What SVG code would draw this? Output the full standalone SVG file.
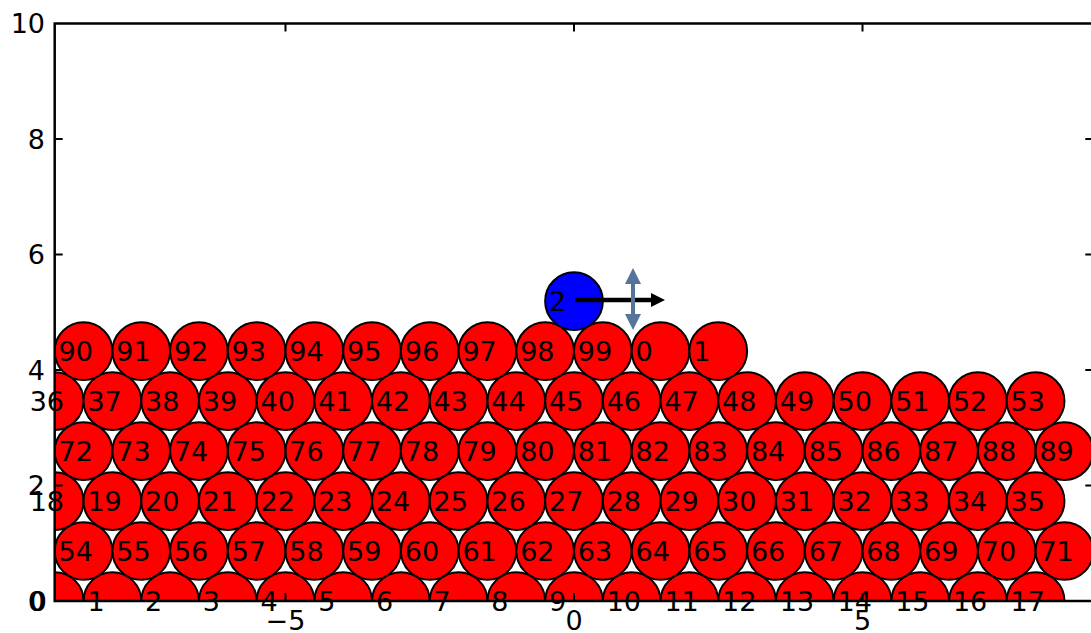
<svg xmlns="http://www.w3.org/2000/svg" width="1091" height="633" viewBox="0 0 1091 633">
<style>
.c{fill:#ff0000;stroke:#000;stroke-width:2}
.b{fill:#0000ff;stroke:#000;stroke-width:2}
.t{font-family:"DejaVu Sans","Liberation Sans",sans-serif;font-size:27px;fill:#000}
.tk{stroke:#000;stroke-width:2}
.yl{text-anchor:end}
.xl{text-anchor:middle}
</style>
<defs>
<clipPath id="ax"><rect x="54.7" y="23.5" width="1038.6" height="577.5"/></clipPath>
<marker id="hk" markerUnits="userSpaceOnUse" markerWidth="14" markerHeight="14" refX="0" refY="7" orient="auto"><path d="M0,0 L14,7 L0,14 z" fill="#000"/></marker>
<marker id="hb" markerUnits="userSpaceOnUse" markerWidth="16" markerHeight="16" refX="0" refY="8" orient="auto-start-reverse"><path d="M0,0 L16,8 L0,16 z" fill="#56739a"/></marker>
</defs>
<rect width="1091" height="633" fill="#fff"/>
<g id="nodes">
<g id="n0"><circle class="c" cx="54.7" cy="601" r="28.85" clip-path="url(#ax)"/><text class="t" x="29.7" y="610.5">0</text></g>
<g id="n1"><circle class="c" cx="112.4" cy="601" r="28.85" clip-path="url(#ax)"/><text class="t" x="87.4" y="610.5">1</text></g>
<g id="n2"><circle class="c" cx="170.1" cy="601" r="28.85" clip-path="url(#ax)"/><text class="t" x="145.1" y="610.5">2</text></g>
<g id="n3"><circle class="c" cx="227.8" cy="601" r="28.85" clip-path="url(#ax)"/><text class="t" x="202.8" y="610.5">3</text></g>
<g id="n4"><circle class="c" cx="285.5" cy="601" r="28.85" clip-path="url(#ax)"/><text class="t" x="260.5" y="610.5">4</text></g>
<g id="n5"><circle class="c" cx="343.2" cy="601" r="28.85" clip-path="url(#ax)"/><text class="t" x="318.2" y="610.5">5</text></g>
<g id="n6"><circle class="c" cx="400.9" cy="601" r="28.85" clip-path="url(#ax)"/><text class="t" x="375.9" y="610.5">6</text></g>
<g id="n7"><circle class="c" cx="458.6" cy="601" r="28.85" clip-path="url(#ax)"/><text class="t" x="433.6" y="610.5">7</text></g>
<g id="n8"><circle class="c" cx="516.3" cy="601" r="28.85" clip-path="url(#ax)"/><text class="t" x="491.3" y="610.5">8</text></g>
<g id="n9"><circle class="c" cx="574" cy="601" r="28.85" clip-path="url(#ax)"/><text class="t" x="549" y="610.5">9</text></g>
<g id="n10"><circle class="c" cx="631.7" cy="601" r="28.85" clip-path="url(#ax)"/><text class="t" x="606.7" y="610.5">10</text></g>
<g id="n11"><circle class="c" cx="689.4" cy="601" r="28.85" clip-path="url(#ax)"/><text class="t" x="664.4" y="610.5">11</text></g>
<g id="n12"><circle class="c" cx="747.1" cy="601" r="28.85" clip-path="url(#ax)"/><text class="t" x="722.1" y="610.5">12</text></g>
<g id="n13"><circle class="c" cx="804.8" cy="601" r="28.85" clip-path="url(#ax)"/><text class="t" x="779.8" y="610.5">13</text></g>
<g id="n14"><circle class="c" cx="862.5" cy="601" r="28.85" clip-path="url(#ax)"/><text class="t" x="837.5" y="610.5">14</text></g>
<g id="n15"><circle class="c" cx="920.2" cy="601" r="28.85" clip-path="url(#ax)"/><text class="t" x="895.2" y="610.5">15</text></g>
<g id="n16"><circle class="c" cx="977.9" cy="601" r="28.85" clip-path="url(#ax)"/><text class="t" x="952.9" y="610.5">16</text></g>
<g id="n17"><circle class="c" cx="1035.6" cy="601" r="28.85" clip-path="url(#ax)"/><text class="t" x="1010.6" y="610.5">17</text></g>
<g id="n54"><circle class="c" cx="83.55" cy="551" r="28.85" clip-path="url(#ax)"/><text class="t" x="58.55" y="560.5">54</text></g>
<g id="n55"><circle class="c" cx="141.25" cy="551" r="28.85" clip-path="url(#ax)"/><text class="t" x="116.25" y="560.5">55</text></g>
<g id="n56"><circle class="c" cx="198.95" cy="551" r="28.85" clip-path="url(#ax)"/><text class="t" x="173.95" y="560.5">56</text></g>
<g id="n57"><circle class="c" cx="256.65" cy="551" r="28.85" clip-path="url(#ax)"/><text class="t" x="231.65" y="560.5">57</text></g>
<g id="n58"><circle class="c" cx="314.35" cy="551" r="28.85" clip-path="url(#ax)"/><text class="t" x="289.35" y="560.5">58</text></g>
<g id="n59"><circle class="c" cx="372.05" cy="551" r="28.85" clip-path="url(#ax)"/><text class="t" x="347.05" y="560.5">59</text></g>
<g id="n60"><circle class="c" cx="429.75" cy="551" r="28.85" clip-path="url(#ax)"/><text class="t" x="404.75" y="560.5">60</text></g>
<g id="n61"><circle class="c" cx="487.45" cy="551" r="28.85" clip-path="url(#ax)"/><text class="t" x="462.45" y="560.5">61</text></g>
<g id="n62"><circle class="c" cx="545.15" cy="551" r="28.85" clip-path="url(#ax)"/><text class="t" x="520.15" y="560.5">62</text></g>
<g id="n63"><circle class="c" cx="602.85" cy="551" r="28.85" clip-path="url(#ax)"/><text class="t" x="577.85" y="560.5">63</text></g>
<g id="n64"><circle class="c" cx="660.55" cy="551" r="28.85" clip-path="url(#ax)"/><text class="t" x="635.55" y="560.5">64</text></g>
<g id="n65"><circle class="c" cx="718.25" cy="551" r="28.85" clip-path="url(#ax)"/><text class="t" x="693.25" y="560.5">65</text></g>
<g id="n66"><circle class="c" cx="775.95" cy="551" r="28.85" clip-path="url(#ax)"/><text class="t" x="750.95" y="560.5">66</text></g>
<g id="n67"><circle class="c" cx="833.65" cy="551" r="28.85" clip-path="url(#ax)"/><text class="t" x="808.65" y="560.5">67</text></g>
<g id="n68"><circle class="c" cx="891.35" cy="551" r="28.85" clip-path="url(#ax)"/><text class="t" x="866.35" y="560.5">68</text></g>
<g id="n69"><circle class="c" cx="949.05" cy="551" r="28.85" clip-path="url(#ax)"/><text class="t" x="924.05" y="560.5">69</text></g>
<g id="n70"><circle class="c" cx="1006.75" cy="551" r="28.85" clip-path="url(#ax)"/><text class="t" x="981.75" y="560.5">70</text></g>
<g id="n71"><circle class="c" cx="1064.45" cy="551" r="28.85" clip-path="url(#ax)"/><text class="t" x="1039.45" y="560.5">71</text></g>
<g id="n18"><circle class="c" cx="54.7" cy="501.1" r="28.85" clip-path="url(#ax)"/><text class="t" x="29.7" y="510.6">18</text></g>
<g id="n19"><circle class="c" cx="112.4" cy="501.1" r="28.85" clip-path="url(#ax)"/><text class="t" x="87.4" y="510.6">19</text></g>
<g id="n20"><circle class="c" cx="170.1" cy="501.1" r="28.85" clip-path="url(#ax)"/><text class="t" x="145.1" y="510.6">20</text></g>
<g id="n21"><circle class="c" cx="227.8" cy="501.1" r="28.85" clip-path="url(#ax)"/><text class="t" x="202.8" y="510.6">21</text></g>
<g id="n22"><circle class="c" cx="285.5" cy="501.1" r="28.85" clip-path="url(#ax)"/><text class="t" x="260.5" y="510.6">22</text></g>
<g id="n23"><circle class="c" cx="343.2" cy="501.1" r="28.85" clip-path="url(#ax)"/><text class="t" x="318.2" y="510.6">23</text></g>
<g id="n24"><circle class="c" cx="400.9" cy="501.1" r="28.85" clip-path="url(#ax)"/><text class="t" x="375.9" y="510.6">24</text></g>
<g id="n25"><circle class="c" cx="458.6" cy="501.1" r="28.85" clip-path="url(#ax)"/><text class="t" x="433.6" y="510.6">25</text></g>
<g id="n26"><circle class="c" cx="516.3" cy="501.1" r="28.85" clip-path="url(#ax)"/><text class="t" x="491.3" y="510.6">26</text></g>
<g id="n27"><circle class="c" cx="574" cy="501.1" r="28.85" clip-path="url(#ax)"/><text class="t" x="549" y="510.6">27</text></g>
<g id="n28"><circle class="c" cx="631.7" cy="501.1" r="28.85" clip-path="url(#ax)"/><text class="t" x="606.7" y="510.6">28</text></g>
<g id="n29"><circle class="c" cx="689.4" cy="501.1" r="28.85" clip-path="url(#ax)"/><text class="t" x="664.4" y="510.6">29</text></g>
<g id="n30"><circle class="c" cx="747.1" cy="501.1" r="28.85" clip-path="url(#ax)"/><text class="t" x="722.1" y="510.6">30</text></g>
<g id="n31"><circle class="c" cx="804.8" cy="501.1" r="28.85" clip-path="url(#ax)"/><text class="t" x="779.8" y="510.6">31</text></g>
<g id="n32"><circle class="c" cx="862.5" cy="501.1" r="28.85" clip-path="url(#ax)"/><text class="t" x="837.5" y="510.6">32</text></g>
<g id="n33"><circle class="c" cx="920.2" cy="501.1" r="28.85" clip-path="url(#ax)"/><text class="t" x="895.2" y="510.6">33</text></g>
<g id="n34"><circle class="c" cx="977.9" cy="501.1" r="28.85" clip-path="url(#ax)"/><text class="t" x="952.9" y="510.6">34</text></g>
<g id="n35"><circle class="c" cx="1035.6" cy="501.1" r="28.85" clip-path="url(#ax)"/><text class="t" x="1010.6" y="510.6">35</text></g>
<g id="n72"><circle class="c" cx="83.55" cy="451.1" r="28.85" clip-path="url(#ax)"/><text class="t" x="58.55" y="460.6">72</text></g>
<g id="n73"><circle class="c" cx="141.25" cy="451.1" r="28.85" clip-path="url(#ax)"/><text class="t" x="116.25" y="460.6">73</text></g>
<g id="n74"><circle class="c" cx="198.95" cy="451.1" r="28.85" clip-path="url(#ax)"/><text class="t" x="173.95" y="460.6">74</text></g>
<g id="n75"><circle class="c" cx="256.65" cy="451.1" r="28.85" clip-path="url(#ax)"/><text class="t" x="231.65" y="460.6">75</text></g>
<g id="n76"><circle class="c" cx="314.35" cy="451.1" r="28.85" clip-path="url(#ax)"/><text class="t" x="289.35" y="460.6">76</text></g>
<g id="n77"><circle class="c" cx="372.05" cy="451.1" r="28.85" clip-path="url(#ax)"/><text class="t" x="347.05" y="460.6">77</text></g>
<g id="n78"><circle class="c" cx="429.75" cy="451.1" r="28.85" clip-path="url(#ax)"/><text class="t" x="404.75" y="460.6">78</text></g>
<g id="n79"><circle class="c" cx="487.45" cy="451.1" r="28.85" clip-path="url(#ax)"/><text class="t" x="462.45" y="460.6">79</text></g>
<g id="n80"><circle class="c" cx="545.15" cy="451.1" r="28.85" clip-path="url(#ax)"/><text class="t" x="520.15" y="460.6">80</text></g>
<g id="n81"><circle class="c" cx="602.85" cy="451.1" r="28.85" clip-path="url(#ax)"/><text class="t" x="577.85" y="460.6">81</text></g>
<g id="n82"><circle class="c" cx="660.55" cy="451.1" r="28.85" clip-path="url(#ax)"/><text class="t" x="635.55" y="460.6">82</text></g>
<g id="n83"><circle class="c" cx="718.25" cy="451.1" r="28.85" clip-path="url(#ax)"/><text class="t" x="693.25" y="460.6">83</text></g>
<g id="n84"><circle class="c" cx="775.95" cy="451.1" r="28.85" clip-path="url(#ax)"/><text class="t" x="750.95" y="460.6">84</text></g>
<g id="n85"><circle class="c" cx="833.65" cy="451.1" r="28.85" clip-path="url(#ax)"/><text class="t" x="808.65" y="460.6">85</text></g>
<g id="n86"><circle class="c" cx="891.35" cy="451.1" r="28.85" clip-path="url(#ax)"/><text class="t" x="866.35" y="460.6">86</text></g>
<g id="n87"><circle class="c" cx="949.05" cy="451.1" r="28.85" clip-path="url(#ax)"/><text class="t" x="924.05" y="460.6">87</text></g>
<g id="n88"><circle class="c" cx="1006.75" cy="451.1" r="28.85" clip-path="url(#ax)"/><text class="t" x="981.75" y="460.6">88</text></g>
<g id="n89"><circle class="c" cx="1064.45" cy="451.1" r="28.85" clip-path="url(#ax)"/><text class="t" x="1039.45" y="460.6">89</text></g>
<g id="n36"><circle class="c" cx="54.7" cy="401.1" r="28.85" clip-path="url(#ax)"/><text class="t" x="29.7" y="410.6">36</text></g>
<g id="n37"><circle class="c" cx="112.4" cy="401.1" r="28.85" clip-path="url(#ax)"/><text class="t" x="87.4" y="410.6">37</text></g>
<g id="n38"><circle class="c" cx="170.1" cy="401.1" r="28.85" clip-path="url(#ax)"/><text class="t" x="145.1" y="410.6">38</text></g>
<g id="n39"><circle class="c" cx="227.8" cy="401.1" r="28.85" clip-path="url(#ax)"/><text class="t" x="202.8" y="410.6">39</text></g>
<g id="n40"><circle class="c" cx="285.5" cy="401.1" r="28.85" clip-path="url(#ax)"/><text class="t" x="260.5" y="410.6">40</text></g>
<g id="n41"><circle class="c" cx="343.2" cy="401.1" r="28.85" clip-path="url(#ax)"/><text class="t" x="318.2" y="410.6">41</text></g>
<g id="n42"><circle class="c" cx="400.9" cy="401.1" r="28.85" clip-path="url(#ax)"/><text class="t" x="375.9" y="410.6">42</text></g>
<g id="n43"><circle class="c" cx="458.6" cy="401.1" r="28.85" clip-path="url(#ax)"/><text class="t" x="433.6" y="410.6">43</text></g>
<g id="n44"><circle class="c" cx="516.3" cy="401.1" r="28.85" clip-path="url(#ax)"/><text class="t" x="491.3" y="410.6">44</text></g>
<g id="n45"><circle class="c" cx="574" cy="401.1" r="28.85" clip-path="url(#ax)"/><text class="t" x="549" y="410.6">45</text></g>
<g id="n46"><circle class="c" cx="631.7" cy="401.1" r="28.85" clip-path="url(#ax)"/><text class="t" x="606.7" y="410.6">46</text></g>
<g id="n47"><circle class="c" cx="689.4" cy="401.1" r="28.85" clip-path="url(#ax)"/><text class="t" x="664.4" y="410.6">47</text></g>
<g id="n48"><circle class="c" cx="747.1" cy="401.1" r="28.85" clip-path="url(#ax)"/><text class="t" x="722.1" y="410.6">48</text></g>
<g id="n49"><circle class="c" cx="804.8" cy="401.1" r="28.85" clip-path="url(#ax)"/><text class="t" x="779.8" y="410.6">49</text></g>
<g id="n50"><circle class="c" cx="862.5" cy="401.1" r="28.85" clip-path="url(#ax)"/><text class="t" x="837.5" y="410.6">50</text></g>
<g id="n51"><circle class="c" cx="920.2" cy="401.1" r="28.85" clip-path="url(#ax)"/><text class="t" x="895.2" y="410.6">51</text></g>
<g id="n52"><circle class="c" cx="977.9" cy="401.1" r="28.85" clip-path="url(#ax)"/><text class="t" x="952.9" y="410.6">52</text></g>
<g id="n53"><circle class="c" cx="1035.6" cy="401.1" r="28.85" clip-path="url(#ax)"/><text class="t" x="1010.6" y="410.6">53</text></g>
<g id="n90"><circle class="c" cx="83.55" cy="351.2" r="28.85" clip-path="url(#ax)"/><text class="t" x="58.55" y="360.7">90</text></g>
<g id="n91"><circle class="c" cx="141.25" cy="351.2" r="28.85" clip-path="url(#ax)"/><text class="t" x="116.25" y="360.7">91</text></g>
<g id="n92"><circle class="c" cx="198.95" cy="351.2" r="28.85" clip-path="url(#ax)"/><text class="t" x="173.95" y="360.7">92</text></g>
<g id="n93"><circle class="c" cx="256.65" cy="351.2" r="28.85" clip-path="url(#ax)"/><text class="t" x="231.65" y="360.7">93</text></g>
<g id="n94"><circle class="c" cx="314.35" cy="351.2" r="28.85" clip-path="url(#ax)"/><text class="t" x="289.35" y="360.7">94</text></g>
<g id="n95"><circle class="c" cx="372.05" cy="351.2" r="28.85" clip-path="url(#ax)"/><text class="t" x="347.05" y="360.7">95</text></g>
<g id="n96"><circle class="c" cx="429.75" cy="351.2" r="28.85" clip-path="url(#ax)"/><text class="t" x="404.75" y="360.7">96</text></g>
<g id="n97"><circle class="c" cx="487.45" cy="351.2" r="28.85" clip-path="url(#ax)"/><text class="t" x="462.45" y="360.7">97</text></g>
<g id="n98"><circle class="c" cx="545.15" cy="351.2" r="28.85" clip-path="url(#ax)"/><text class="t" x="520.15" y="360.7">98</text></g>
<g id="n99"><circle class="c" cx="602.85" cy="351.2" r="28.85" clip-path="url(#ax)"/><text class="t" x="577.85" y="360.7">99</text></g>
<g id="n100"><circle class="c" cx="660.55" cy="351.2" r="28.85" clip-path="url(#ax)"/><text class="t" x="635.55" y="360.7">0</text></g>
<g id="n101"><circle class="c" cx="718.25" cy="351.2" r="28.85" clip-path="url(#ax)"/><text class="t" x="693.25" y="360.7">1</text></g>
<g id="n102"><circle class="b" cx="574" cy="301.2" r="28.85"/><text class="t" x="549" y="310.7">2</text></g>
</g>
<g id="arrows">
<line x1="575" y1="300" x2="651" y2="300" stroke="#000" stroke-width="4.5" marker-end="url(#hk)"/>
<line x1="633" y1="284" x2="633" y2="314" stroke="#56739a" stroke-width="4" marker-start="url(#hb)" marker-end="url(#hb)"/>
</g>
<g id="axes">
<rect x="54.7" y="23.5" width="1038.6" height="577.5" fill="none" stroke="#000" stroke-width="2.5"/>
<path class="tk" d="M285.5,601v-8M574,601v-8M862.5,601v-8M285.5,23.5v8M574,23.5v8M862.5,23.5v8"/>
<path class="tk" d="M54.7,485.5h8M54.7,370h8M54.7,254.5h8M54.7,139h8M1093.3,485.5h-8M1093.3,370h-8M1093.3,254.5h-8M1093.3,139h-8"/>
<text class="t yl" x="45" y="33.3">10</text>
<text class="t yl" x="45" y="148.8">8</text>
<text class="t yl" x="45" y="264.3">6</text>
<text class="t yl" x="45" y="379.8">4</text>
<text class="t yl" x="45" y="495.3">2</text>
<text class="t yl" x="45" y="610.8">0</text>
<text class="t xl" x="285.5" y="629.5">−5</text>
<text class="t xl" x="574" y="629.5">0</text>
<text class="t xl" x="862.5" y="629.5">5</text>
</g>
</svg>
